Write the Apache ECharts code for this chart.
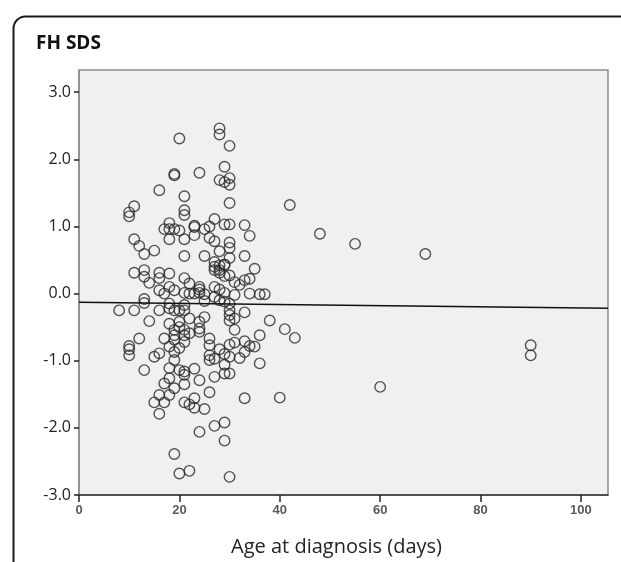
<!DOCTYPE html>
<html>
<head>
<meta charset="utf-8">
<script src="https://cdn.jsdelivr.net/npm/echarts@6/dist/echarts.min.js"></script>
<style>html,body{margin:0;padding:0;background:#fff}#c{width:621px;height:562px}</style>
</head>
<body>
<div id="c"></div>
<script>
// Age at diagnosis (days)
const ageDays = [
 20,28,28,30,19,19,24,29,28,29,30,30,16,21,30,11,10,10,21,21,
 18,17,18,19,20,23,23,25,26,27,29,30,33,34,11,12,13,15,18,21,
 23,26,27,30,28,30,30,29,21,25,33,27,27,28,28,29,35,
 11,13,13,14,16,16,18,16,17,18,19,21,22,21,22,23,24,24,24,25,25,
 27,28,29,30,31,32,33,34,27,28,29,27,28,29,30,30,30,30,31,31,33,34,
 8,11,13,13,14,16,18,18,19,20,21,21,22,24,24,25,18,20,20,19,21,21,
 19,19,17,18,20,21,22,24,26,26,12,10,10,10,15,16,13,19,19,26,27,26,
 28,30,31,29,30,32,33,34,35,36,33,29,29,30,27,18,18,20,21,21,23,24,
 21,17,19,16,18,15,17,16,21,22,23,23,25,26,33,24,27,29,29,
 19,20,22,30,
 42,48,55,69,36,37,31,38,41,43,36,90,90,60,40
];
// FH SDS values
const fhSds = [
 2.31,2.46,2.37,2.20,1.78,1.76,1.80,1.89,1.69,1.66,1.72,1.62,1.54,1.45,1.35,1.30,1.21,1.15,1.24,1.17,
 1.05,0.96,0.96,0.96,0.94,1.01,0.99,0.96,1.00,1.11,1.03,1.03,1.02,0.86,0.81,0.71,0.59,0.64,0.81,0.81,
 0.87,0.83,0.78,0.76,0.63,0.68,0.53,0.43,0.56,0.56,0.56,0.47,0.40,0.42,0.35,0.43,0.37,
 0.31,0.35,0.25,0.16,0.31,0.23,0.30,0.05,0.00,0.10,0.05,0.23,0.15,0.01,0.00,0.00,0.10,0.06,0.01,-0.01,-0.11,
 0.35,0.31,0.26,0.27,0.17,0.13,0.20,0.22,0.10,0.06,0.01,-0.05,-0.10,-0.12,-0.15,-0.25,-0.32,-0.40,-0.37,-0.54,-0.28,0.00,
 -0.25,-0.25,-0.08,-0.14,-0.41,-0.25,-0.15,-0.22,-0.25,-0.25,-0.17,-0.25,-0.37,-0.42,-0.52,-0.35,-0.45,-0.42,-0.50,-0.54,-0.54,-0.62,
 -0.62,-0.69,-0.67,-0.79,-0.81,-0.72,-0.59,-0.57,-0.67,-0.77,-0.67,-0.78,-0.83,-0.92,-0.94,-0.89,-1.14,-0.87,-0.99,-0.92,-0.97,-0.99,
 -0.83,-0.76,-0.73,-0.90,-0.94,-0.96,-0.71,-0.78,-0.79,-0.62,-0.87,-1.06,-1.19,-1.19,-1.24,-1.11,-1.26,-1.14,-1.16,-1.21,-1.12,-1.29,
 -1.35,-1.34,-1.41,-1.51,-1.51,-1.62,-1.62,-1.79,-1.62,-1.65,-1.56,-1.70,-1.72,-1.47,-1.56,-2.06,-1.97,-1.92,-2.19,
 -2.39,-2.68,-2.64,-2.73,
 1.32,0.89,0.74,0.59,-0.01,-0.01,-0.02,-0.40,-0.53,-0.66,-1.04,-0.77,-0.92,-1.39,-1.55
];
// Fit line endpoints
const fitX = [0, 105.4];
const fitY = [-0.13, -0.22];
const yTicks = [-3, -2, -1, 0, 1, 2, 3];
const xTicks = [0, 20, 40, 60, 80, 100];

const points = ageDays.map((d, i) => [d, fhSds[i]]);
const fitLine = fitX.map((d, i) => [d, fitY[i]]);

const chart = echarts.init(document.getElementById('c'));
chart.setOption({
  animation: false,
  backgroundColor: '#ffffff',
  graphic: [
    { type: 'rect', left: 11, top: 14, shape: { width: 700, height: 700, r: 12 },
      style: { fill: 'none', stroke: '#1a1a1a', lineWidth: 2 }, z: -1 },
    { type: 'text', left: 36, top: 34,
      style: { text: 'FH SDS', font: 'bold 19px "Open Sans", sans-serif', fill: '#111' } }
  ],
  grid: { left: 79, top: 70, right: 13, bottom: 65, show: true,
    backgroundColor: '#f0f0f0', borderColor: '#8c8c8c', borderWidth: 1.5 },
  xAxis: {
    type: 'value', min: 0, max: 105.4, interval: 20,
    name: 'Age at diagnosis (days)', nameLocation: 'middle', nameGap: 42,
    nameTextStyle: { fontFamily: '"Open Sans", sans-serif', fontSize: 20, color: '#222', padding: [0, 14, 0, 0] },
    axisLine: { show: true, onZero: false, lineStyle: { color: '#333', width: 1.5 } },
    axisTick: { show: true, length: 7, inside: false, customValues: xTicks, lineStyle: { color: '#222', width: 1.5 } },
    axisLabel: { customValues: xTicks, margin: 9, fontFamily: '"Liberation Sans", Arial, sans-serif', fontWeight: 'bold',
      fontSize: 13, color: '#5a5a5a' },
    splitLine: { show: false }
  },
  yAxis: {
    type: 'value', min: -3, max: 3.33, interval: 1,
    axisLine: { show: true, onZero: false, lineStyle: { color: '#8c8c8c', width: 1.5 } },
    axisTick: { show: true, length: 5, customValues: yTicks, lineStyle: { color: '#222', width: 1.5 } },
    axisLabel: { customValues: yTicks, margin: 8, fontFamily: '"Open Sans", sans-serif', fontSize: 16, color: '#222',
      formatter: v => v.toFixed(1) },
    splitLine: { show: false }
  },
  series: [
    { type: 'scatter', data: points, symbol: 'circle', symbolSize: 10.5,
      itemStyle: { color: 'rgba(0,0,0,0)', borderColor: '#2a2a2a', borderWidth: 1.4 } },
    { type: 'line', data: fitLine, symbol: 'none',
      lineStyle: { color: '#111', width: 1.5 } }
  ]
});
</script>
</body>
</html>
